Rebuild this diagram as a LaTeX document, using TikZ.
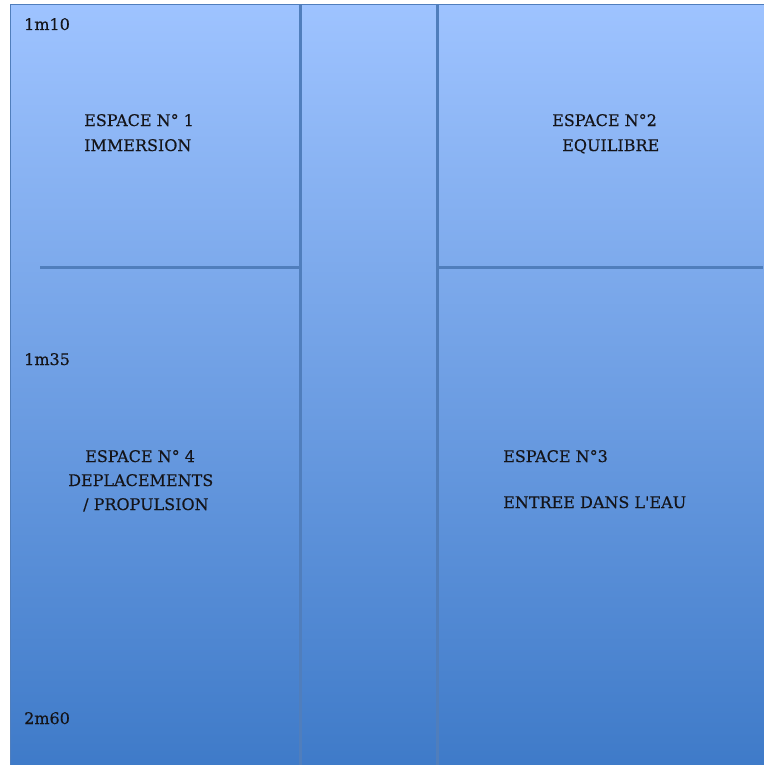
\documentclass[tikz,border=0pt]{standalone}
\usepackage{fontspec}
\setmainfont[FakeBold=0.4]{DejaVu Serif}
\definecolor{topblue}{RGB}{158,195,255}
\definecolor{botblue}{RGB}{62,122,200}
\definecolor{linecol}{RGB}{80,126,188}
\definecolor{txt}{RGB}{20,20,25}
\begin{document}
\begin{tikzpicture}[x=1pt,y=-1pt,
  lab/.style={anchor=base west,inner sep=0pt,text=txt,font=\fontsize{16}{18}\selectfont},
  sep/.style={draw=linecol,line width=3pt}]
\useasboundingbox (0,0) rectangle (763,765);
\fill[white] (0,0) rectangle (763,765);
\shade[top color=topblue,bottom color=botblue] (10.5,4.5) rectangle (770,770);
\draw[linecol,line width=1pt] (10.5,770) -- (10.5,4.5) -- (770,4.5);
\coordinate (v1t) at (300,4.5);
\coordinate (v1b) at (300,765);
\coordinate (v2t) at (437,4.5);
\coordinate (v2b) at (437,765);
\coordinate (h1l) at (40,267);
\coordinate (h1r) at (300,267);
\coordinate (h2l) at (437,267);
\coordinate (h2r) at (763,267);
\draw[sep] (v1t) -- (v1b);
\draw[sep] (v2t) -- (v2b);
\draw[sep] (h1l) -- (h1r);
\draw[sep] (h2l) -- (h2r);
\node[lab] (m1) at (24,30) {1m10};
\node[lab] (m2) at (24,365) {1m35};
\node[lab] (m3) at (24,724) {2m60};
\node[lab] (e1a) at (84,126) {ESPACE N° 1};
\node[lab] (e1b) at (84,151) {IMMERSION};
\node[lab] (e2a) at (552,126) {ESPACE N°2};
\node[lab] (e2b) at (562,151) {EQUILIBRE};
\node[lab] (e4a) at (85,462) {ESPACE N° 4};
\node[lab] (e4b) at (68,486) {DEPLACEMENTS};
\node[lab] (e4c) at (83,510) {/ PROPULSION};
\node[lab] (e3a) at (503,462) {ESPACE N°3};
\node[lab] (e3b) at (503,508) {ENTREE DANS L\textquotesingle EAU};
\end{tikzpicture}
\end{document}
